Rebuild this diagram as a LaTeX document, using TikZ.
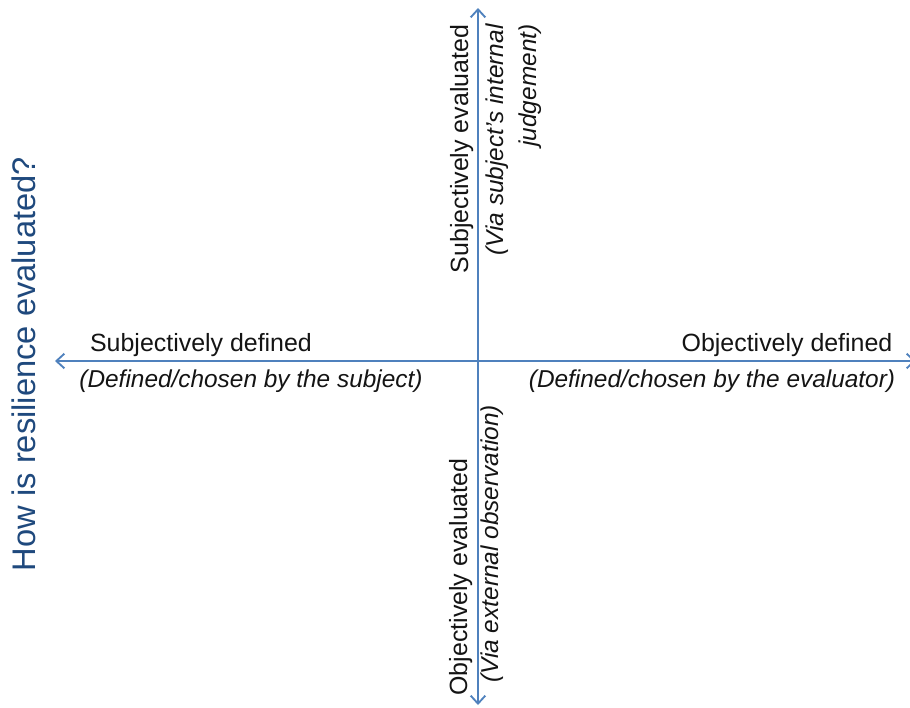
\documentclass[tikz,border=0pt]{standalone}
\usepackage{fontspec}
\setmainfont{Liberation Sans}
\usetikzlibrary{arrows.meta}
\definecolor{axisblue}{RGB}{79, 129, 189}
\definecolor{titleblue}{RGB}{31, 73, 125}
\definecolor{textgray}{RGB}{20, 20, 20}

\begin{document}
\begin{tikzpicture}[
      x=0.75pt, y=-0.75pt,
      axis/.style={
        {Straight Barb[length=6pt, width=11pt]}-{Straight Barb[length=6pt, width=11pt]},
        line width=1.4pt, color=axisblue
      },
      lbl/.style={inner sep=0pt, font=\fontsize{18.7}{22}\selectfont, text=textgray},
      note/.style={inner sep=0pt, font=\fontsize{18.3}{24.5}\selectfont\itshape,
        text=textgray},
      ttl/.style={inner sep=0pt, font=\fontsize{24.5}{28}\selectfont, text=titleblue}
  ]
    \useasboundingbox (0,0) rectangle (910,707);

    % axis ends
    \coordinate (west)  at (55,361);
    \coordinate (east)  at (916,361);
    \coordinate (north) at (478,8);
    \coordinate (south) at (478,705);

    \draw[axis] (west) -- (east);
    \draw[axis] (south) -- (north);

    % horizontal labels
    \node[lbl, anchor=base]  (subdef)  at (201,351) {Subjectively defined};
    \node[note, anchor=base] (subdefn) at (251,387) {(Defined/chosen by the subject)};
    \node[lbl, anchor=base]  (objdef)  at (787,351) {Objectively defined};
    \node[note, anchor=base] (objdefn) at (712,387) {(Defined/chosen by the evaluator)};

    % vertical labels
    \node[lbl, anchor=base, rotate=90] (subeval) at (468,149) {Subjectively evaluated};
    \node[note, rotate=90, align=right] (subevaln) at (514,140)
      {(Via subject's internal\\judgement)};
    \node[lbl, anchor=base, rotate=90] (objeval) at (467,577) {Objectively evaluated};
    \node[note, anchor=base, rotate=90] (objevaln) at (498,544) {(Via external observation)};

    % title
    \node[ttl, anchor=base, rotate=90] (title) at (35,364) {How is resilience evaluated?};
  \end{tikzpicture}
\end{document}
